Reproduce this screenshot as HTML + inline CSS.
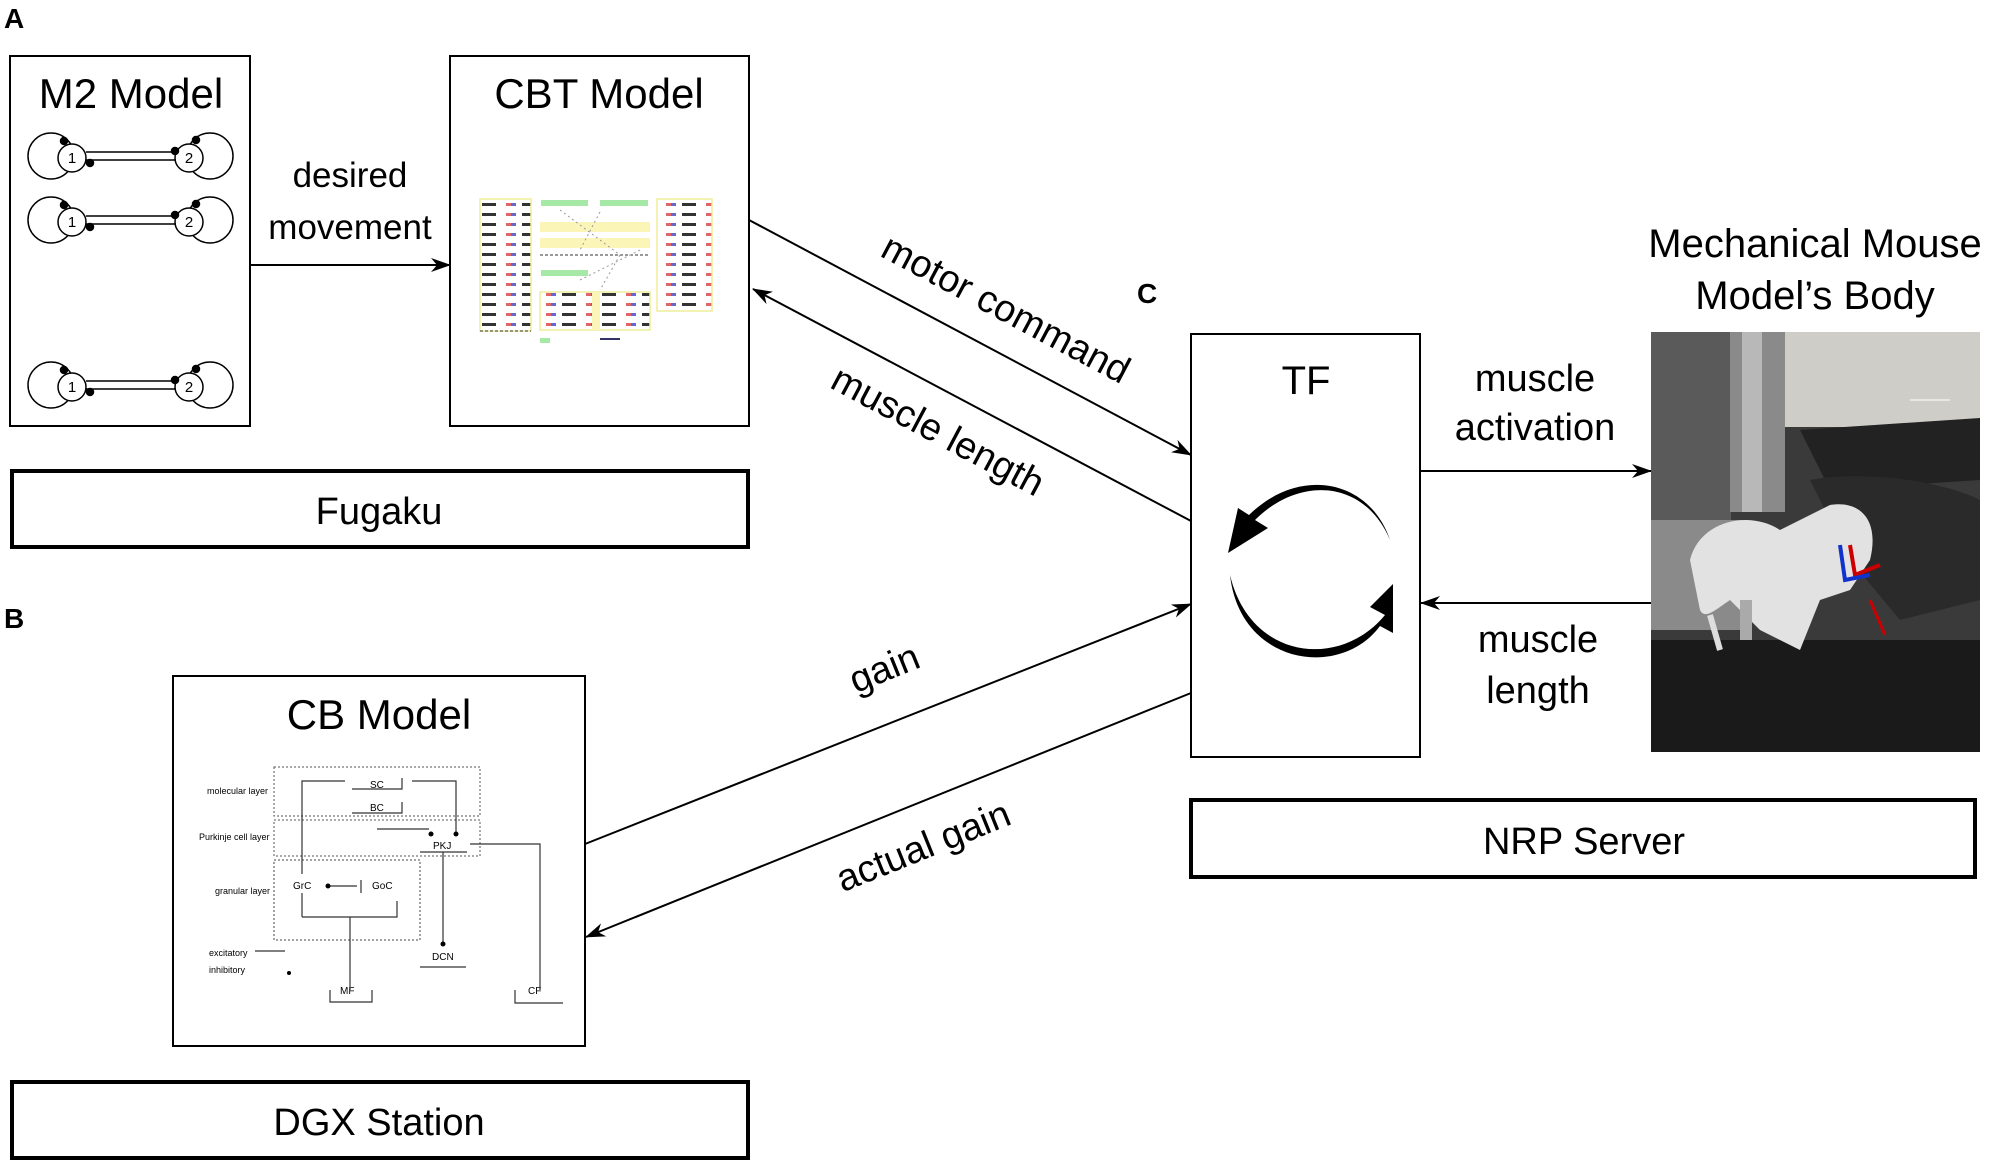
<!DOCTYPE html>
<html><head><meta charset="utf-8"><style>
html,body{margin:0;padding:0;background:#fff}
svg{display:block}
text{font-family:"Liberation Sans",Arial,sans-serif;fill:#000}
</style></head><body>
<svg width="2008" height="1169" viewBox="0 0 2008 1169" xmlns="http://www.w3.org/2000/svg">
<defs>
<marker id="ah" viewBox="0 0 20 14" refX="19" refY="7" markerWidth="20" markerHeight="14" markerUnits="userSpaceOnUse" orient="auto">
<path d="M0,0 L20,7 L0,14 L6,7 z" fill="#000"/></marker>
<pattern id="rows" width="40" height="10" patternUnits="userSpaceOnUse">
<rect x="2" y="3" width="14" height="3" fill="#333"/><rect x="26" y="3" width="5" height="3" fill="#d66"/><rect x="31" y="3" width="5" height="3" fill="#66c"/>
</pattern>
</defs>

<!-- panel letters -->
<text x="4" y="28" font-size="28" font-weight="bold">A</text>
<text x="4" y="628" font-size="28" font-weight="bold">B</text>
<text x="1137" y="303" font-size="28" font-weight="bold">C</text>

<!-- M2 box -->
<rect x="10" y="56" width="240" height="370" fill="#fff" stroke="#000" stroke-width="2"/>
<text x="131" y="108" font-size="42" text-anchor="middle">M2 Model</text>
<g fill="none" stroke="#000" stroke-width="1.5">
<g id="pair">
<circle cx="51" cy="156" r="23"/><circle cx="72" cy="158" r="14" fill="#fff"/>
<circle cx="210" cy="156" r="23"/><circle cx="189" cy="158" r="14" fill="#fff"/>
<line x1="86" y1="152" x2="176" y2="152"/><line x1="86" y1="160" x2="176" y2="160"/>
<circle cx="64" cy="141" r="3.5" fill="#000"/><circle cx="90" cy="163" r="3.5" fill="#000"/>
<circle cx="175" cy="151" r="3.5" fill="#000"/><circle cx="196" cy="140" r="3.5" fill="#000"/>
</g>
<use href="#pair" y="64"/><use href="#pair" y="229"/>
</g>
<g font-size="15" text-anchor="middle">
<text x="72" y="163">1</text><text x="189" y="163">2</text>
<text x="72" y="227">1</text><text x="189" y="227">2</text>
<text x="72" y="392">1</text><text x="189" y="392">2</text>
</g>

<!-- desired movement -->
<line x1="250" y1="265" x2="450" y2="265" stroke="#000" stroke-width="2" marker-end="url(#ah)"/>
<text x="350" y="187" font-size="35" text-anchor="middle">desired</text>
<text x="350" y="239" font-size="35" text-anchor="middle">movement</text>

<!-- CBT box -->
<rect x="450" y="56" width="299" height="370" fill="#fff" stroke="#000" stroke-width="2"/>
<text x="599" y="108" font-size="42" text-anchor="middle">CBT Model</text>
<g>
<rect x="480" y="199" width="51" height="132" fill="url(#rows)" stroke="#ee9" stroke-width="1.5"/>
<rect x="657" y="199" width="55" height="112" fill="url(#rows)" stroke="#ee9" stroke-width="1.5"/>
<rect x="540" y="222" width="110" height="10" fill="#fbf6b8"/>
<rect x="540" y="238" width="110" height="10" fill="#fbf6b8"/>
<rect x="541" y="200" width="47" height="6" fill="#a6e8a6"/>
<rect x="600" y="200" width="48" height="6" fill="#a6e8a6"/>
<rect x="541" y="270" width="47" height="6" fill="#a6e8a6"/>
<rect x="540" y="292" width="110" height="38" fill="url(#rows)" stroke="#ee9" stroke-width="1.5"/>
<rect x="592" y="292" width="8" height="38" fill="#fbf6b8"/>
<line x1="540" y1="255" x2="650" y2="255" stroke="#333" stroke-dasharray="3,2"/>
<line x1="480" y1="331" x2="531" y2="331" stroke="#333" stroke-dasharray="3,2"/>
<path d="M560,210 L620,255 M600,212 L580,250 M620,255 L600,290 M580,280 L640,250" stroke="#999" stroke-dasharray="2,3" fill="none"/>
<rect x="540" y="338" width="10" height="5" fill="#a6e8a6"/>
<rect x="600" y="338" width="20" height="2" fill="#336"/>
</g>

<!-- Fugaku -->
<rect x="12" y="471" width="736" height="76" fill="#fff" stroke="#000" stroke-width="4"/>
<text x="379" y="524" font-size="38" text-anchor="middle">Fugaku</text>

<!-- CB box -->
<rect x="173" y="676" width="412" height="370" fill="#fff" stroke="#000" stroke-width="2"/>
<text x="379" y="729" font-size="42" text-anchor="middle">CB Model</text>
<g font-size="10" fill="#444">
<rect x="274" y="767" width="206" height="49" fill="none" stroke="#555" stroke-dasharray="2,2"/>
<rect x="274" y="820" width="206" height="36" fill="none" stroke="#555" stroke-dasharray="2,2"/>
<rect x="274" y="860" width="146" height="80" fill="none" stroke="#444" stroke-dasharray="2,2"/>
<text x="207" y="794" font-size="9" fill="#777">molecular layer</text>
<text x="199" y="840" font-size="9" fill="#777">Purkinje cell layer</text>
<text x="215" y="894" font-size="9" fill="#777">granular layer</text>
<text x="370" y="788" fill="#333">SC</text><text x="370" y="811" fill="#333">BC</text>
<text x="433" y="849" fill="#333">PKJ</text>
<text x="293" y="889" fill="#333">GrC</text><text x="372" y="889" fill="#333">GoC</text>
<text x="432" y="960" fill="#333">DCN</text>
<text x="340" y="994" fill="#333">MF</text><text x="528" y="994" fill="#333">CF</text>
<text x="209" y="956" font-size="9" fill="#555">excitatory</text>
<text x="209" y="973" font-size="9" fill="#000">inhibitory</text>
<g stroke="#333" fill="none" stroke-width="1.2">
<path d="M302,874 V781 H345"/><path d="M352,789 H402 V778"/><path d="M352,813 H402 V802"/>
<path d="M412,781 H456 V833"/><path d="M377,829 H429"/><path d="M420,852 H467"/>
<path d="M443,852 V944"/><path d="M420,967 H466"/>
<path d="M302,917 V893"/><path d="M302,917 H397 V901"/><path d="M350,917 V990"/>
<path d="M330,990 V1002 H372 V990"/><path d="M515,990 V1003 H563"/>
<path d="M540,990 V844 H470"/><path d="M330,886 H357 M361,880 V893"/>
<path d="M255,951 H285"/>
</g>
<g fill="#000"><circle cx="456" cy="834" r="2.5"/><circle cx="431" cy="834" r="2.5"/><circle cx="443" cy="944" r="2.5"/><circle cx="328" cy="886" r="2.5"/><circle cx="289" cy="973" r="2"/></g>
</g>

<!-- DGX -->
<rect x="12" y="1082" width="736" height="76" fill="#fff" stroke="#000" stroke-width="4"/>
<text x="379" y="1135" font-size="38" text-anchor="middle">DGX Station</text>

<!-- connectors -->
<g stroke="#000" stroke-width="2" fill="none">
<line x1="749" y1="220" x2="1191" y2="455" marker-end="url(#ah)"/>
<line x1="1191" y1="521" x2="753" y2="289" marker-end="url(#ah)"/>
<line x1="585" y1="844" x2="1191" y2="604" marker-end="url(#ah)"/>
<line x1="1191" y1="693" x2="586" y2="937" marker-end="url(#ah)"/>
<line x1="1420" y1="471" x2="1651" y2="471" marker-end="url(#ah)"/>
<line x1="1651" y1="603" x2="1421" y2="603" marker-end="url(#ah)"/>
</g>
<text transform="translate(1000,320) rotate(28)" font-size="38" text-anchor="middle">motor command</text>
<text transform="translate(932,442) rotate(28)" font-size="38" text-anchor="middle">muscle length</text>
<text transform="translate(889,680) rotate(-22)" font-size="38" text-anchor="middle">gain</text>
<text transform="translate(928,858) rotate(-22)" font-size="38" text-anchor="middle">actual gain</text>
<text x="1535" y="391" font-size="38" text-anchor="middle">muscle</text>
<text x="1535" y="440" font-size="38" text-anchor="middle">activation</text>
<text x="1538" y="652" font-size="38" text-anchor="middle">muscle</text>
<text x="1538" y="703" font-size="38" text-anchor="middle">length</text>

<!-- TF box -->
<rect x="1191" y="334" width="229" height="423" fill="#fff" stroke="#000" stroke-width="2"/>
<text x="1306" y="394" font-size="40" text-anchor="middle">TF</text>
<path d="M1390,540 C1365,480 1300,475 1255,520 L1268,528 L1228,553 L1238,508 L1249,515 C1300,465 1370,480 1390,540 Z" fill="#000"/>
<path d="M1230,575 C1250,660 1340,670 1385,615 L1370,607 L1393,584 L1393,633 L1380,626 C1340,680 1240,665 1230,575 Z" fill="#000"/>

<!-- NRP -->
<rect x="1191" y="800" width="784" height="77" fill="#fff" stroke="#000" stroke-width="4"/>
<text x="1584" y="854" font-size="38" text-anchor="middle">NRP Server</text>

<!-- Mouse -->
<text x="1815" y="257" font-size="40" text-anchor="middle">Mechanical Mouse</text>
<text x="1815" y="309" font-size="40" text-anchor="middle">Model’s Body</text>
<g>
<rect x="1651" y="332" width="329" height="420" fill="#3a3a3a"/>
<rect x="1730" y="332" width="250" height="95" fill="#cfcdc8"/>
<rect x="1651" y="332" width="80" height="200" fill="#5a5a5a"/>
<rect x="1730" y="332" width="55" height="180" fill="#8a8a8a"/>
<rect x="1742" y="332" width="20" height="180" fill="#b8b8b8"/>
<path d="M1800,430 L1980,418 L1980,480 L1830,490 Z" fill="#222"/>
<path d="M1810,480 C1860,470 1940,480 1980,500 L1980,600 L1900,620 L1850,560 Z" fill="#2a2a2a"/>
<rect x="1651" y="520" width="90" height="110" fill="#8a8a8a"/>
<rect x="1651" y="640" width="329" height="112" fill="#1a1a1a"/>
<path d="M1690,560 C1700,520 1750,510 1780,530 L1830,505 C1860,500 1880,520 1870,560 L1850,590 L1820,600 L1800,650 L1760,630 L1730,600 C1715,610 1705,620 1700,610 Z" fill="#e2e2e2"/>
<path d="M1710,615 L1720,650" stroke="#ddd" stroke-width="6"/>
<path d="M1850,545 L1855,575 L1880,565" stroke="#c00" stroke-width="4" fill="none"/>
<path d="M1840,545 L1845,580 L1870,575" stroke="#13c" stroke-width="4" fill="none"/>
<path d="M1870,600 L1885,635" stroke="#c00" stroke-width="3"/>
<rect x="1740" y="600" width="12" height="40" fill="#aaa"/>
<path d="M1910,400 H1950" stroke="#fff" stroke-width="1"/>
</g>
</svg>
</body></html>
